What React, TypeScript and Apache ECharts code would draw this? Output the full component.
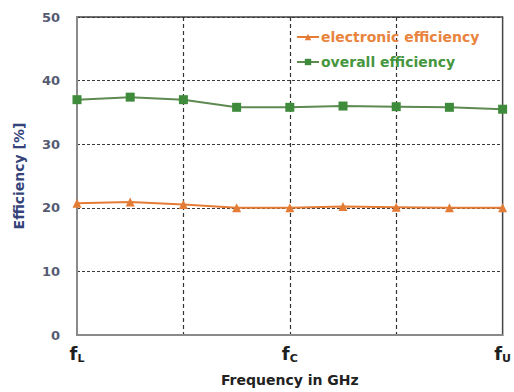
import React, { useEffect, useRef } from "react";
import * as echarts from "echarts";

// Nine equally spaced frequency points across the band
const freqPoints = ["L", "2", "3", "4", "C", "6", "7", "8", "U"];
const labelledPoints = ["L", "C", "U"];

const electronicEfficiency = [20.7, 20.9, 20.5, 20.0, 20.0, 20.2, 20.1, 20.0, 20.0];
const overallEfficiency = [37.0, 37.4, 37.0, 35.8, 35.8, 36.0, 35.9, 35.8, 35.5];

const yTicks = { min: 0, max: 50, interval: 10 };

const ORANGE = "#e47c36";
const GREEN = "#3f8b3c";

export default function App() {
  const ref = useRef<HTMLDivElement>(null);

  useEffect(() => {
    if (!ref.current) return;
    const chart = echarts.init(ref.current, undefined, { renderer: "svg" });
    chart.setOption({
      animation: false,
      backgroundColor: "#ffffff",
      grid: {
        left: 77,
        right: 3,
        top: 17,
        bottom: 57,
        show: true,
        borderColor: "#444444",
        borderWidth: 1.5,
        containLabel: false,
      },
      legend: {
        orient: "vertical",
        left: 296,
        top: 30,
        padding: 0,
        itemWidth: 22,
        itemHeight: 8,
        itemGap: 11,
        data: [
          { name: "electronic efficiency", textStyle: { color: "#e8843e" } },
          { name: "overall efficiency", textStyle: { color: "#46963e" } },
        ],
        textStyle: {
          fontFamily: "DejaVu Sans",
          fontWeight: "bold",
          fontSize: 14,
          padding: [0, 0, 0, -3],
        },
      },
      xAxis: {
        type: "category",
        data: freqPoints,
        boundaryGap: false,
        name: "Frequency in GHz",
        nameLocation: "middle",
        nameGap: 38,
        nameTextStyle: {
          fontFamily: "DejaVu Sans",
          fontWeight: "bold",
          fontSize: 14,
          color: "#222222",
        },
        axisLine: { show: true, lineStyle: { color: "#8a8a8a", width: 2 } },
        axisTick: { show: false },
        axisLabel: {
          interval: 0,
          margin: 8,
          formatter: (v: string) =>
            labelledPoints.includes(v) ? `{f|f}{s|${v}}` : "",
          rich: {
            f: {
              fontFamily: "DejaVu Sans",
              fontWeight: "bold",
              fontSize: 18,
              color: "#1e1e1e",
            },
            s: {
              fontFamily: "DejaVu Sans",
              fontWeight: "bold",
              fontSize: 11,
              color: "#1e1e1e",
              padding: [10, 0, 0, 0],
            },
          },
        },
        splitLine: {
          show: true,
          interval: (i: number) => i === 2 || i === 4 || i === 6,
          lineStyle: { color: "#333333", type: [4, 3], width: 1.2 },
        },
      },
      yAxis: {
        type: "value",
        min: yTicks.min,
        max: yTicks.max,
        interval: yTicks.interval,
        name: "Efficiency [%]",
        nameLocation: "middle",
        nameGap: 51,
        nameRotate: 90,
        nameTextStyle: {
          fontFamily: "DejaVu Sans",
          fontWeight: "bold",
          fontSize: 14,
          color: "#34437a",
        },
        axisLine: { show: true, lineStyle: { color: "#8a8a8a", width: 2 } },
        axisTick: { show: false },
        axisLabel: {
          margin: 17,
          fontFamily: "DejaVu Sans",
          fontWeight: "bold",
          fontSize: 13,
          color: "#555b72",
        },
        splitLine: {
          show: true,
          lineStyle: { color: "#3a3a3a", type: [3, 2], width: 1 },
        },
      },
      series: [
        {
          name: "electronic efficiency",
          type: "line",
          data: electronicEfficiency,
          symbol: "triangle",
          symbolSize: 9,
          lineStyle: { color: ORANGE, width: 2 },
          itemStyle: { color: ORANGE },
          z: 3,
        },
        {
          name: "overall efficiency",
          type: "line",
          data: overallEfficiency,
          symbol: "rect",
          symbolSize: 9,
          lineStyle: { color: "#5e8a52", width: 2 },
          itemStyle: { color: GREEN },
          z: 3,
        },
      ],
    });
    return () => chart.dispose();
  }, []);

  return (
    <div
      ref={ref}
      style={{ position: "fixed", left: 0, top: 0, width: 514, height: 392 }}
    />
  );
}
